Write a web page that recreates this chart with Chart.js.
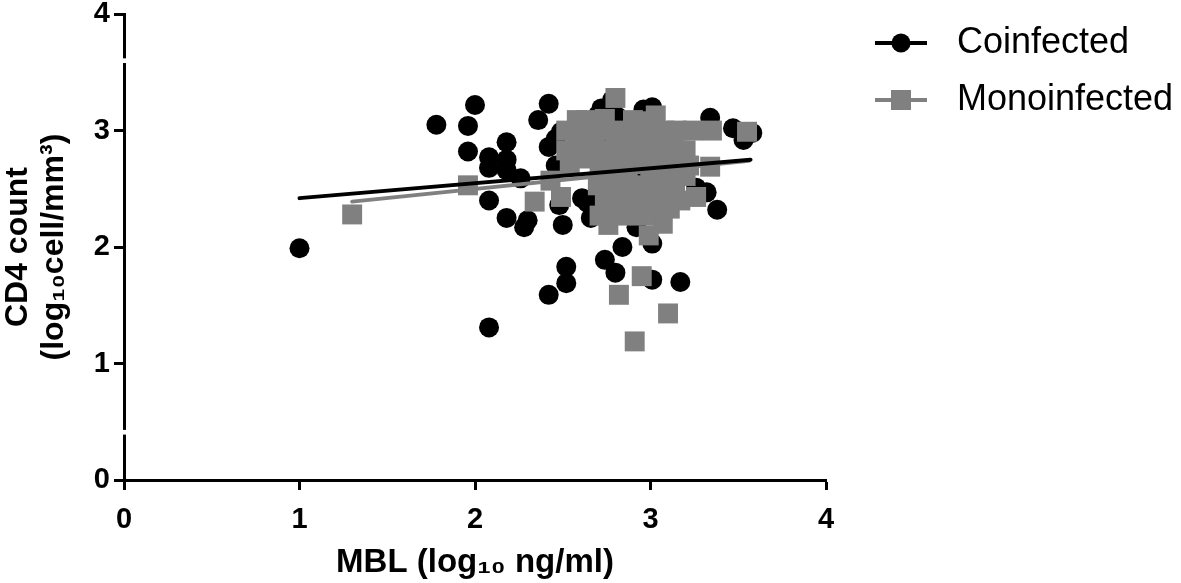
<!DOCTYPE html>
<html>
<head>
<meta charset="utf-8">
<script src="https://cdn.jsdelivr.net/npm/chart.js@4.4.1/dist/chart.umd.min.js"></script>
<style>
  body { margin: 0; background: #fff; }
  #wrap { width: 1181px; height: 583px; }
</style>
</head>
<body>
<div id="wrap"><canvas id="chart" width="1181" height="583"></canvas></div>
<script>
// Coinfected patients (black circles) - MBL vs CD4, both log10
const coX = [1.00, 1.78, 1.96, 1.96, 2.00, 2.08, 2.08, 2.08, 2.08, 2.18, 2.18, 2.18, 2.18, 2.26, 2.28, 2.30,
             2.36, 2.42, 2.42, 2.46, 2.46, 2.42, 2.48, 2.49, 2.50, 2.52, 2.52, 2.61, 2.64, 2.66, 2.70, 2.72,
             2.78, 2.81, 2.74, 2.80, 2.84, 2.92, 2.96, 3.01, 3.01, 3.01, 3.17, 3.26, 3.32, 3.34, 3.38, 3.47,
             3.53, 3.58, 2.60, 2.75, 2.90, 3.05, 2.70, 3.10, 2.85, 3.20, 2.95];
const coY = [1.99, 3.05, 3.04, 2.82, 3.22, 2.77, 2.68, 2.40, 1.31, 2.90, 2.75, 2.66, 2.25, 2.59, 2.17, 2.23,
             3.09, 3.23, 2.86, 2.93, 2.70, 1.59, 2.36, 2.99, 2.19, 1.83, 1.69, 2.42, 2.38, 2.25, 3.13, 3.19,
             3.26, 3.12, 1.89, 1.78, 2.00, 2.17, 3.18, 3.20, 2.03, 1.72, 1.70, 2.51, 2.47, 3.11, 2.32, 3.02,
             2.92, 2.98, 2.80, 2.95, 2.65, 2.85, 2.50, 2.55, 3.00, 2.72, 2.40];

// Monoinfected patients (grey squares)
const monoX = [1.30, 1.96, 2.34, 2.43, 2.49, 2.58, 2.80, 3.03,
               2.63, 2.74, 2.90, 2.97,
               2.52, 2.63, 2.74, 2.85, 2.96, 3.08, 3.15, 3.24, 3.35, 3.55,
               2.58, 2.68, 2.80, 2.91, 3.02, 3.13,
               2.52, 2.63, 2.74, 2.85, 2.97, 3.08, 3.20,
               2.60, 2.78, 2.92, 3.06, 3.17,
               2.54, 2.71, 2.85, 3.00, 3.14, 3.22, 3.34,
               2.75, 2.87, 3.00, 3.10, 3.20,
               2.70, 2.80, 2.94, 3.05, 3.14,
               2.76, 2.90, 3.02, 3.12,
               2.74, 2.85, 2.97, 3.08, 3.17, 3.26,
               2.78, 2.90, 3.00, 3.11,
               2.71, 2.83, 2.94, 3.05, 2.76, 3.07, 2.99,
               2.95, 2.82, 3.10, 2.91];
const monoY = [2.28, 2.53, 2.39, 2.57, 2.43, 3.09, 3.28, 3.13,
               3.09, 3.10, 3.09, 3.08,
               3.00, 3.00, 3.00, 3.00, 3.00, 3.00, 3.00, 3.00, 3.00, 2.99,
               2.92, 2.92, 2.92, 2.92, 2.92, 2.92,
               2.83, 2.83, 2.83, 2.83, 2.83, 2.83, 2.83,
               2.76, 2.76, 2.76, 2.76, 2.76,
               2.70, 2.70, 2.70, 2.70, 2.70, 2.70, 2.69,
               2.61, 2.61, 2.61, 2.61, 2.61,
               2.53, 2.53, 2.53, 2.53, 2.53,
               2.46, 2.46, 2.46, 2.46,
               2.40, 2.40, 2.40, 2.40, 2.40, 2.43,
               2.33, 2.33, 2.33, 2.33,
               2.27, 2.27, 2.27, 2.27, 2.19, 2.20, 2.10,
               1.75, 1.59, 1.43, 1.19];

// linear fits, ends
const coFitX = [1.00, 3.57];
const coFitY = [2.42, 2.75];
const monoFitX = [1.30, 3.56];
const monoFitY = [2.39, 2.74];

const xTicks = [0, 1, 2, 3, 4];
const yTicks = [0, 1, 2, 3, 4];
const seriesNames = ["Coinfected", "Monoinfected"];
const yBreaks = [3.6, 0.41];

const FONT = "'Liberation Sans', Arial, sans-serif";
const BLACK = "#000000";
const GREY = "#808080";

function pts(xs, ys) {
    return xs.map((x, i) => ({ x: x, y: ys[i] }));
}

// legend icon: short line with the marker on it
function makeIcon(color, shape) {
    const c = document.createElement("canvas");
    c.width = 92;
    c.height = 24;
    const g = c.getContext("2d");
    g.strokeStyle = color;
    g.lineWidth = 4;
    g.beginPath();
    g.moveTo(28, 12);
    g.lineTo(80, 12);
    g.stroke();
    g.fillStyle = color;
    if (shape === "circle") {
        g.beginPath();
        g.arc(54, 12, 9.5, 0, Math.PI * 2);
        g.fill();
    } else {
        g.fillRect(44, 2, 20, 20);
    }
    return c;
}
const coIcon = makeIcon(BLACK, "circle");
const monoIcon = makeIcon(GREY, "rect");

// little gaps in the y axis line
const axisBreaks = {
    id: "axisBreaks",
    afterDraw(chart) {
        const ctx = chart.ctx;
        const ys = chart.scales.y;
        ctx.save();
        ctx.fillStyle = "#fff";
        yBreaks.forEach(b => {
            const top = ys.getPixelForValue(b + 0.02);
            const bot = ys.getPixelForValue(b - 0.02);
            ctx.fillRect(chart.chartArea.left - 4, top, 8, bot - top);
        });
        ctx.restore();
    }
};

const tickFont = { family: FONT, size: 29, weight: "bold", lineHeight: 1 };
const yTitleFont = { family: FONT, size: 32, weight: "bold", lineHeight: 1.12 };
const xTitleFont = { family: FONT, size: 33, weight: "bold", lineHeight: 1.12 };

const ctx = document.getElementById("chart").getContext("2d");
new Chart(ctx, {
    type: "scatter",
    data: {
        datasets: [
            {
                label: "Coinfected fit",
                data: pts(coFitX, coFitY),
                showLine: true,
                borderColor: BLACK,
                borderWidth: 4,
                borderCapStyle: "round",
                pointRadius: 0,
                order: 0
            },
            {
                label: "Monoinfected fit",
                data: pts(monoFitX, monoFitY),
                showLine: true,
                borderColor: GREY,
                borderWidth: 4,
                borderCapStyle: "round",
                pointRadius: 0,
                order: 1
            },
            {
                label: seriesNames[1],
                data: pts(monoX, monoY),
                pointStyle: "rect",
                pointRadius: 14.1,
                backgroundColor: GREY,
                borderWidth: 0,
                order: 2
            },
            {
                label: seriesNames[0],
                data: pts(coX, coY),
                pointStyle: "circle",
                pointRadius: 10,
                backgroundColor: BLACK,
                borderWidth: 0,
                order: 3
            }
        ]
    },
    options: {
        responsive: false,
        animation: false,
        events: [],
        layout: { padding: { top: 0, right: 0, bottom: 0, left: 0 } },
        plugins: {
            tooltip: { enabled: false },
            legend: {
                position: "right",
                align: "start",
                maxWidth: 355,
                title: { display: true, text: " ", font: { size: 2, lineHeight: 1 }, padding: { top: 2, bottom: 0 } },
                labels: {
                    usePointStyle: true,
                    pointStyleWidth: 92,
                    padding: 21,
                    color: BLACK,
                    font: { family: FONT, size: 36 },
                    generateLabels: () => [
                        { text: seriesNames[0], pointStyle: coIcon, fillStyle: BLACK, strokeStyle: BLACK, lineWidth: 0, fontColor: BLACK, hidden: false, datasetIndex: 3 },
                        { text: seriesNames[1], pointStyle: monoIcon, fillStyle: GREY, strokeStyle: GREY, lineWidth: 0, fontColor: BLACK, hidden: false, datasetIndex: 2 }
                    ]
                }
            }
        },
        scales: {
            x: {
                type: "linear",
                min: 0,
                max: 4,
                afterBuildTicks: s => { s.ticks = xTicks.map(v => ({ value: v })); },
                afterFit: s => { s.height = 103; },
                grid: { drawOnChartArea: false, drawTicks: true, tickLength: 10, tickWidth: 3, tickColor: BLACK },
                border: { display: true, color: BLACK, width: 3 },
                ticks: { color: BLACK, font: tickFont, padding: 15, maxRotation: 0 },
                title: {
                    display: true,
                    text: "MBL (log₁₀ ng/ml)",
                    color: BLACK,
                    font: xTitleFont,
                    padding: { top: 0, bottom: 2 }
                }
            },
            y: {
                type: "linear",
                min: 0,
                max: 4,
                afterBuildTicks: s => { s.ticks = yTicks.map(v => ({ value: v })); },
                afterFit: s => { s.width = 124; s.paddingTop = 14; },
                grid: { drawOnChartArea: false, drawTicks: true, tickLength: 10, tickWidth: 3, tickColor: BLACK },
                border: { display: true, color: BLACK, width: 3 },
                ticks: { color: BLACK, font: tickFont, padding: 4 },
                title: {
                    display: true,
                    text: ["CD4 count", "(log₁₀cell/mm³)"],
                    color: BLACK,
                    font: yTitleFont,
                    padding: { top: 0, bottom: 0 }
                }
            }
        }
    },
    plugins: [axisBreaks]
});
</script>
</body>
</html>
